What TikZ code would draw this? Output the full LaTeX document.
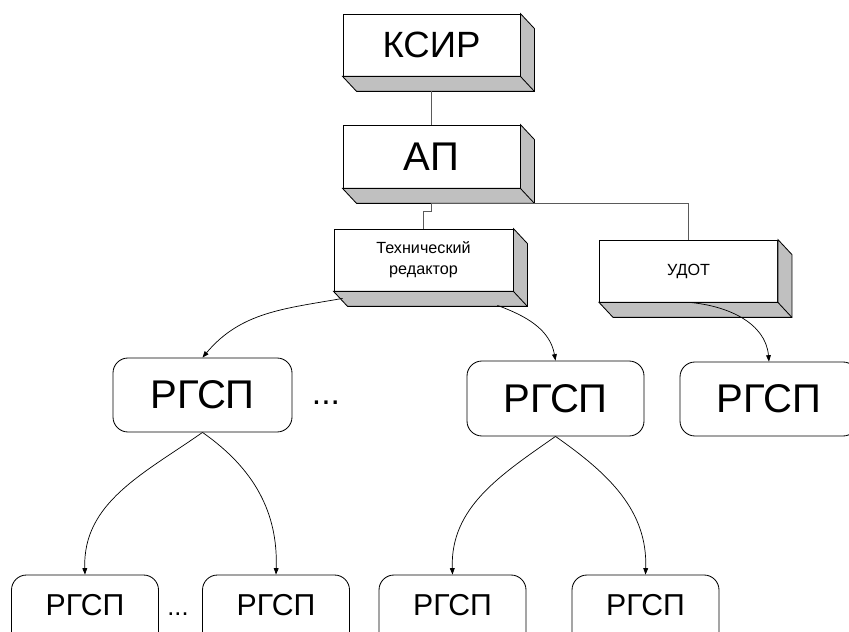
\documentclass[tikz,border=0pt]{standalone}
\usepackage{fontspec}
\setmainfont{Liberation Sans}
\usetikzlibrary{
  arrows.meta,
  calc
}
\definecolor{slabgray}{HTML}{C0C0C0}
\definecolor{wire}{HTML}{5A5A5A}

% front face + extruded sides of a 3D box
\newcommand{\extrude}[1]{%
  \filldraw[fill=slabgray, line width=0.6pt] (#1.north east) -- ++(14,-15)
    -- ($(#1.south east)+(14,-15)$) -- ($(#1.south west)+(14,-15)$)
    -- (#1.south west) -- (#1.south east) -- cycle;
  \draw[line width=0.6pt] (#1.south east) -- ++(14,-15);}

\begin{document}
\begin{tikzpicture}[
  x=0.25mm, y=0.25mm,
  slab/.style={draw, fill=white, line width=0.6pt, inner sep=0pt},
  unit/.style={draw, rounded corners=3.75mm, line width=0.6pt, inner sep=0pt},
  big/.style={font=\fontsize{28.5}{31}\selectfont},
  small/.style={font=\fontsize{11.5}{15}\selectfont, align=center},
  wired/.style={wire, line width=0.7pt},
  arr/.style={-{Triangle[length=1.6mm, width=1.2mm]}, line width=0.5pt}
]
  \path[use as bounding box, clip] (0,0) rectangle (849,-632);

  % top of the hierarchy
  \node[slab, minimum width=44.25mm, minimum height=15.5mm,
        font=\fontsize{26}{28}\selectfont] (ksir) at (431.5,-45) {КСИР};
  \extrude{ksir}
  \node[slab, big, minimum width=44.25mm, minimum height=15.75mm] (ap) at (431.5,-156.5) {АП};
  \extrude{ap}

  \node[slab, small, minimum width=44.75mm, minimum height=15.5mm] (tech) at (423.5,-260) {Технический\\редактор};
  \extrude{tech}
  \node[slab, small, minimum width=44.5mm, minimum height=15.5mm] (udot) at (688.5,-271) {УДОТ};
  \extrude{udot}

  \draw[wired] ($(ksir.south)+(0,-15)$) -- (ap.north);
  \draw[wired] ($(ap.south)+(0,-15)$) -- ++(0,-8) -| (tech.north);
  \draw[wired] ($(ap.south)+(0,-15)$) -| (udot.north);

  % groups
  \node[unit, big, minimum width=44.75mm, minimum height=18.5mm] (rg1) at (202.5,-395) {РГСП};
  \node[unit, big, minimum width=44.25mm, minimum height=18.75mm] (rg2) at (555.5,-398.5) {РГСП};
  \node[unit, big, minimum width=44.5mm, minimum height=18.5mm] (rg3) at (769,-399) {РГСП};
  \node[font=\fontsize{24}{26}\selectfont, anchor=base] (dots1) at (326,-404) {...};

  \draw[arr] ($(tech.south west)+(9,-7)$) to[out=190, in=50] (rg1.north);
  \draw[arr] ($(tech.south east)+(-16,-14)$) to[out=-20, in=100] (rg2.north);
  \draw[arr] ($(udot.south)+(1,0)$) to[out=-5, in=95] (rg3.north);

  % subgroups
  \tikzset{sub/.style={unit, font=\fontsize{21.5}{24}\selectfont, minimum width=36.75mm,
                       text height=10mm, text depth=12.5mm, anchor=base}}
  \node[sub] (sg1) at (85,-615) {РГСП};
  \node[sub] (sg2) at (276,-615) {РГСП};
  \node[sub] (sg3) at (452.5,-615) {РГСП};
  \node[sub] (sg4) at (645.5,-615) {РГСП};
  \node[font=\fontsize{18}{20}\selectfont, anchor=base] (dots2) at (178,-615) {...};

  \draw[arr] (rg1.south) to[out=215, in=92] (sg1.north);
  \draw[arr] (rg1.south) to[out=-35, in=88] (sg2.north);
  \draw[arr] (rg2.south) to[out=215, in=92] (sg3.north);
  \draw[arr] (rg2.south) to[out=-35, in=88] (sg4.north);
\end{tikzpicture}
\end{document}
